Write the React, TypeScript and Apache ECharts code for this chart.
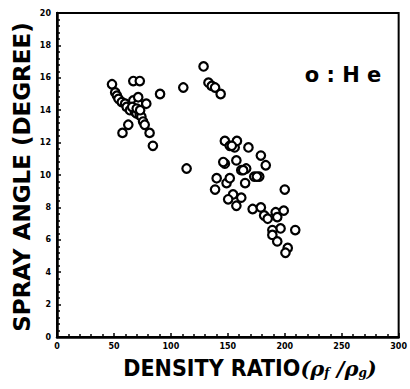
import React, { useEffect, useRef } from "react";
import * as echarts from "echarts";

const xTicks = [0, 50, 100, 150, 200, 250, 300];
const yTicks = [0, 2, 4, 6, 8, 10, 12, 14, 16, 18, 20];

const densityRatio = [
  48.3, 51.1, 52.6, 54, 56.9, 59.8, 61.2, 64.1, 67, 68.4, 71.3, 71.3, 69.8, 72.7, 74.1, 75.6, 77, 78.4,
  81.3, 84.2, 57.5, 62.6, 67, 72.7, 90.5, 110.9, 113.8, 128.7, 133, 135.9, 138.8, 143.7, 147.4, 151.7,
  156, 158, 168.1, 179, 183.3, 147.4, 157.5, 161.8, 166.1, 173.2, 177.6, 140.2, 148.9, 151.7, 165.2,
  138.8, 154.6, 161.8, 150.3, 157.5, 171.8, 179, 181.9, 192, 193.4, 199.1, 200, 196.3, 209.2, 189.1,
  189.1, 193.4, 202.6, 200.6, 66, 70, 73, 163.5, 175.5, 185, 153.5, 146,
];
const sprayAngle = [
  15.6, 15.1, 14.9, 14.7, 14.5, 14.4, 14.2, 14.0, 14.6, 13.9, 14.4, 14.8, 13.8, 13.7, 13.6, 13.3, 13.1, 14.4,
  12.6, 11.8, 12.6, 13.1, 15.8, 15.8, 15.0, 15.4, 10.4, 16.7, 15.7, 15.5, 15.4, 15.0, 12.1, 11.8,
  11.7, 12.1, 11.7, 11.2, 10.6, 10.7, 10.9, 10.3, 10.4, 9.9, 9.9, 9.8, 9.5, 9.8, 9.5,
  9.1, 8.8, 8.6, 8.5, 8.1, 7.9, 8.0, 7.5, 7.7, 7.4, 7.8, 9.1, 6.7, 6.6, 6.6,
  6.3, 5.9, 5.5, 5.2, 14.2, 14.1, 14.0, 10.3, 9.9, 7.3, 11.8, 10.8,
];

export default function App() {
  const ref = useRef<HTMLDivElement>(null);
  useEffect(() => {
    if (!ref.current) return;
    const chart = echarts.init(ref.current, undefined, { renderer: "svg" });
    const pts = densityRatio.map((x, i) => [x, sprayAngle[i]]);
    const tickFont = { fontFamily: "DejaVu Sans", fontWeight: "bold" as const, fontSize: 8, color: "#000" };
    chart.setOption({
      animation: false,
      backgroundColor: "#fff",
      grid: { left: 57, right: 5, top: 13, bottom: 52, show: true, borderColor: "#000", borderWidth: 2 },
      xAxis: {
        type: "value",
        min: xTicks[0],
        max: xTicks[xTicks.length - 1],
        interval: 50,
        axisLine: { show: true, onZero: false, lineStyle: { color: "#000", width: 2.5 } },
        axisTick: { show: true, inside: true, length: 4, lineStyle: { color: "#000", width: 1.5 } },
        minorTick: { show: true, splitNumber: 5, length: 3, lineStyle: { color: "#000", width: 1.5 } },
        splitLine: { show: false },
        axisLabel: { ...tickFont, margin: 5, showMaxLabel: true },
      },
      yAxis: {
        type: "value",
        min: yTicks[0],
        max: yTicks[yTicks.length - 1],
        interval: 2,
        axisLine: { show: true, onZero: false, lineStyle: { color: "#000", width: 2.5 } },
        axisTick: { show: true, inside: true, length: 4, lineStyle: { color: "#000", width: 1.5 } },
        minorTick: { show: true, splitNumber: 5, length: 3, lineStyle: { color: "#000", width: 1.5 } },
        splitLine: { show: false },
        axisLabel: { ...tickFont, margin: 6 },
      },
      graphic: [
        {
          type: "text",
          x: 22,
          y: 177,
          rotation: Math.PI / 2,
          style: {
            text: "SPRAY ANGLE (DEGREE)",
            fontFamily: "DejaVu Sans",
            fontWeight: "bold",
            fontSize: 23,
            fill: "#000",
            align: "center",
            verticalAlign: "middle",
          },
        },
        {
          type: "text",
          x: 250,
          y: 368,
          style: {
            text: "DENSITY RATIO{p|(ρ}{s|f}{p| /ρ}{s|g}{p|)}",
            fontFamily: "DejaVu Sans Condensed",
            fontWeight: "bold",
            fontSize: 23,
            fill: "#000",
            align: "center",
            verticalAlign: "middle",
            rich: {
              p: { fontFamily: "DejaVu Serif", fontStyle: "italic", fontWeight: "bold", fontSize: 21, fill: "#000" },
              s: { fontFamily: "DejaVu Serif", fontStyle: "italic", fontWeight: "bold", fontSize: 12, fill: "#000", padding: [10, 0, 0, 0] },
            },
          },
        },
        {
          type: "text",
          x: 343,
          y: 75,
          style: {
            text: "o : H e",
            fontFamily: "DejaVu Sans",
            fontWeight: "bold",
            fontSize: 21,
            fill: "#000",
            align: "center",
            verticalAlign: "middle",
          },
        },
      ],
      series: [
        {
          type: "scatter",
          data: pts,
          symbol: "circle",
          symbolSize: 8.5,
          itemStyle: { color: "#ffffff", borderColor: "#000000", borderWidth: 2.2, opacity: 1 },
          z: 5,
        },
      ],
    });
    return () => chart.dispose();
  }, []);
  return <div ref={ref} style={{ position: "fixed", left: 0, top: 0, width: 410, height: 389 }} />;
}
